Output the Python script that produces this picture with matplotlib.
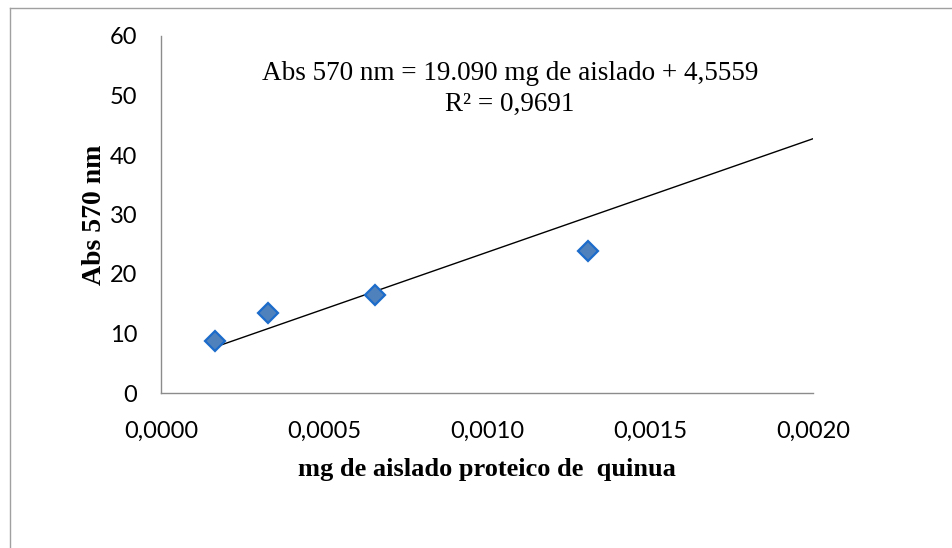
import matplotlib
matplotlib.use("Agg")
import matplotlib.pyplot as plt
import numpy as np
from matplotlib.lines import Line2D

# data
mg_aislado = [0.000166, 0.000329, 0.000656, 0.001309]
abs_570 = [8.7, 13.4, 16.4, 23.9]
slope = 19090.0
intercept = 4.5559
r2_text = "R² = 0,9691"
eq_text = "Abs 570 nm = 19.090 mg de aislado + 4,5559"
x_ticks = [0.0, 0.0005, 0.0010, 0.0015, 0.0020]
x_ticklabels = ["0,0000", "0,0005", "0,0010", "0,0015", "0,0020"]
y_ticks = [0, 10, 20, 30, 40, 50, 60]

fig = plt.figure(figsize=(9.53, 5.48), dpi=100)
ax = fig.add_axes([161/953, 1-393/548, (813-161)/953, (393-36)/548])

tick_font = "Lato"
serif = "Liberation Serif"

# trend line
xt = np.array([mg_aislado[0], x_ticks[-1]])
ax.plot(xt, slope*xt + intercept, color="black", lw=1.0, zorder=2)
ax.plot(mg_aislado, abs_570, linestyle="none", marker="D", ms=10.5,
        mfc="#4F81BD", mec="#1C6CCB", mew=1.6, zorder=3)

ax.set_xlim(0, 0.002)
ax.set_ylim(0, 60)
ax.set_xticks(x_ticks)
ax.set_xticklabels(x_ticklabels, fontname=tick_font, fontsize=17)
ax.set_yticks(y_ticks)
ax.set_yticklabels([str(v) for v in y_ticks], fontname=tick_font, fontsize=17)
ax.tick_params(length=0)
ax.tick_params(axis="x", pad=20)
ax.tick_params(axis="y", pad=17)
for s in ["top", "right"]:
    ax.spines[s].set_visible(False)
for s in ["left", "bottom"]:
    ax.spines[s].set_color("#8C8C8C")
    ax.spines[s].set_linewidth(1.0)

ax.set_xlabel("mg de aislado proteico de  quinua", fontname=serif,
              fontweight="bold", fontsize=19, labelpad=12)
ax.set_ylabel("Abs 570 nm", fontname=serif, fontweight="bold", fontsize=20,
              labelpad=2)

fig.text(510/953, 1-74/548, eq_text, fontname=serif, fontsize=19.5,
         ha="center", va="center")
fig.text(510/953, 1-104/548, r2_text, fontname=serif, fontsize=19.5,
         ha="center", va="center")

# outer chart border (top and left only visible)
fig.add_artist(Line2D([10/953, 10/953], [0, 1-8/548], transform=fig.transFigure,
                      color="#A0A0A0", lw=1.0))
fig.add_artist(Line2D([10/953, 1], [1-8/548, 1-8/548], transform=fig.transFigure,
                      color="#A0A0A0", lw=1.0))

fig.savefig("out.png", dpi=100)
